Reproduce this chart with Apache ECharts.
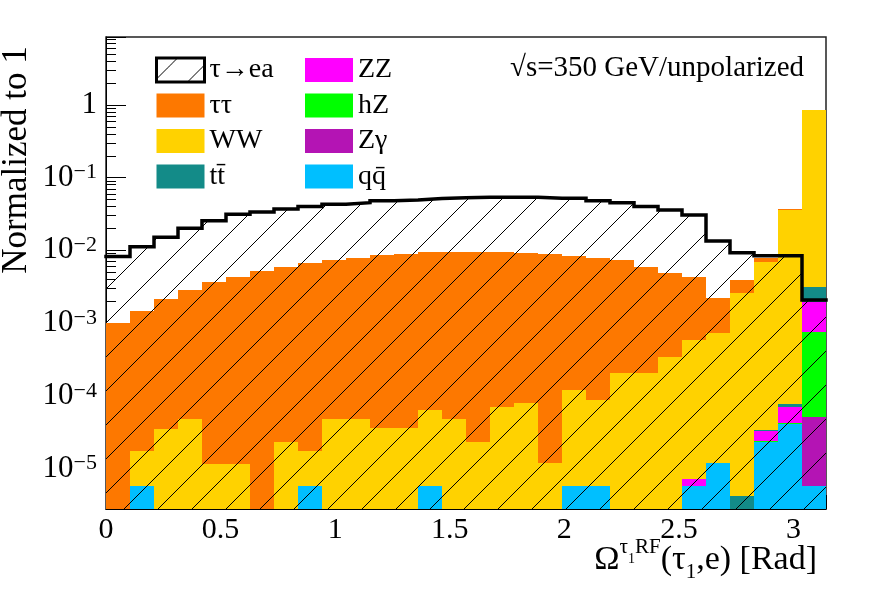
<!DOCTYPE html>
<html>
<head>
<meta charset="utf-8">
<script src="https://cdn.jsdelivr.net/npm/echarts@6/dist/echarts.min.js"></script>
<style>
  html, body {margin: 0; padding: 0; background: #fff;}
  #main {width: 888px; height: 603px;}
</style>
</head>
<body>
<div id="main"></div>
<script>
// histogram: 30 bins over [0, pi]
const NBINS = 30
const XMAX = Math.PI
const YMIN = 2.77e-6
const YMAX = 8.6

// signal tau->ea (normalized)
const sig = [8.2e-3, 0.01125, 0.0151, 0.0201, 0.0256, 0.0313, 0.0337, 0.0371, 0.040, 0.043,
  0.0453, 0.0483, 0.0493, 0.0515, 0.053, 0.0537, 0.0537, 0.0537, 0.052, 0.052,
  0.0483, 0.0453, 0.040, 0.036, 0.0307, 0.01346, 0.0093, 0.0084, 0.0084, 0.00208]

// backgrounds, per process (stacked bottom -> top: qq, Zg, hZ, ZZ, tt, WW, tautau)
const qq = [0, 5.8e-6, 0, 0, 0, 0, 0, 0, 5.8e-6, 0,
  0, 0, 0, 5.8e-6, 0, 0, 0, 0, 0, 5.7e-6,
  5.7e-6, 0, 0, 0, 5.7e-6, 1.18e-5, 0, 2.34e-5, 4.05e-5, 5.7e-6]
const zg = [0, 0, 0, 0, 0, 0, 0, 0, 0, 0,
  0, 0, 0, 0, 0, 0, 0, 0, 0, 0,
  0, 0, 0, 0, 0, 0, 0, 0, 0, 4.6e-5]
const hz = [0, 0, 0, 0, 0, 0, 0, 0, 0, 0,
  0, 0, 0, 0, 0, 0, 0, 0, 0, 0,
  0, 0, 0, 0, 0, 0, 0, 3e-7, 2e-6, 7.1e-4]
const zz = [0, 0, 0, 0, 0, 0, 0, 0, 0, 0,
  0, 0, 0, 0, 0, 0, 0, 0, 0, 0,
  0, 0, 0, 0, 1.4e-6, 0, 0, 9e-6, 2.65e-5, 1.21e-3]
const tt = [0, 0, 0, 0, 0, 0, 0, 0, 0, 0,
  0, 0, 0, 0, 0, 0, 0, 0, 0, 0,
  0, 0, 0, 0, 0, 0, 4.2e-6, 8e-7, 8e-6, 1.2e-3]
const ww = [0, 1.16e-5, 3.53e-5, 4.74e-5, 1.15e-5, 1.16e-5, 0, 2.32e-5, 1.16e-5, 4.74e-5,
  4.74e-5, 3.6e-5, 3.6e-5, 5.8e-5, 4.74e-5, 2.34e-5, 7.1e-5, 8.0e-5, 1.18e-5, 1.14e-4,
  8.2e-5, 2.04e-4, 2.07e-4, 3.45e-4, 5.79e-4, 7.28e-4, 2.616e-3, 6.97e-3, 0.0359, 0.847]
const tautau = [1.01e-3, 1.45e-3, 2.11e-3, 2.80e-3, 3.66e-3, 4.34e-3, 5.2e-3, 5.83e-3, 6.58e-3, 7.25e-3,
  7.85e-3, 8.46e-3, 8.86e-3, 9.44e-3, 9.45e-3, 9.58e-3, 9.43e-3, 9.22e-3, 8.89e-3, 8.28e-3,
  7.71e-3, 7.2e-3, 5.64e-3, 4.56e-3, 3.76e-3, 1.45e-3, 1.28e-3, 0.9e-3, 7e-4, 0]

const FONT = 'Liberation Serif'

const chart = echarts.init(document.getElementById('main'))

const edges = []
for (let i = 0; i <= NBINS; i++) edges.push(i * XMAX / NBINS)

// hatch tile (ROOT style 3004-ish)
function makeHatch() {
  const s = 34, p = 21
  const cv = document.createElement('canvas')
  cv.width = s
  cv.height = s
  const ctx = cv.getContext('2d')
  ctx.strokeStyle = '#000'
  ctx.lineWidth = 1
  for (const c of [p, p + s]) {
    ctx.beginPath()
    ctx.moveTo(c + 2, -2)
    ctx.lineTo(-2, c + 2)
    ctx.stroke()
  }
  return cv
}
const hatch = {image: makeHatch(), repeat: 'repeat'}

const procs = [
  {name: 'qq̄', data: qq, color: '#00bfff'},
  {name: 'Zγ', data: zg, color: '#b414b4'},
  {name: 'hZ', data: hz, color: '#00ff00'},
  {name: 'ZZ', data: zz, color: '#ff00ff'},
  {name: 'tt̄', data: tt, color: '#138b88'},
  {name: 'WW', data: ww, color: '#ffd200'},
  {name: 'ττ', data: tautau, color: '#fd7800'},
]

function renderBin(params, api) {
  const lo = Math.max(api.value(2), YMIN)
  const hi = api.value(3)
  if (!(hi > lo)) return
  const p0 = api.coord([api.value(0), lo])
  const p1 = api.coord([api.value(1), hi])
  const x0 = Math.round(p0[0]), x1 = Math.round(p1[0])
  const y0 = Math.round(p0[1]), y1 = Math.round(p1[1])
  return {
    type: 'rect',
    shape: {x: x0, y: y1, width: x1 - x0, height: y0 - y1},
    style: {fill: api.visual('color')},
  }
}

function renderHatch(params, api) {
  const a = api.coord([api.value(0), api.value(2)])
  const b = api.coord([api.value(1), YMIN])
  return {
    type: 'rect',
    shape: {x: a[0], y: a[1], width: b[0] - a[0], height: b[1] - a[1]},
    style: {fill: hatch},
  }
}

const base = new Array(NBINS).fill(0)
const series = procs.map(p => {
  const rows = p.data.map((v, i) => {
    const lo = base[i]
    base[i] += v
    return [edges[i], edges[i + 1], lo, base[i]]
  })
  return {
    type: 'custom',
    name: p.name,
    renderItem: renderBin,
    itemStyle: {color: p.color},
    encode: {x: [0, 1], y: [2, 3]},
    clip: true,
    silent: true,
    data: rows,
  }
})

series.push({
  type: 'custom',
  name: 'τ→ea',
  renderItem: renderHatch,
  itemStyle: {color: hatch},
  encode: {x: [0, 1], y: [2]},
  clip: true,
  silent: true,
  data: sig.map((v, i) => [edges[i], edges[i + 1], v]),
})

// outline of the signal histogram
const outline = sig.map((v, i) => [edges[i], v])
outline.push([XMAX, sig[NBINS - 1]])
series.push({
  type: 'line',
  name: 'sigOutline',
  step: 'end',
  showSymbol: false,
  symbol: 'none',
  silent: true,
  lineStyle: {color: '#000', width: 3.5, cap: 'square', join: 'miter'},
  data: outline,
})

// minor log ticks (2..9 x 10^n)
const minorLog = []
for (let e = -6; e <= 0; e++) {
  for (let m = 2; m <= 9; m++) {
    const v = m * Math.pow(10, e)
    if (v > YMIN && v < YMAX) minorLog.push(Math.log10(v))
  }
}

const legendText = {fontFamily: FONT, fontSize: 28, color: '#000', lineHeight: 24}
const legendItem = (name, color) => ({name, itemStyle: {color, borderWidth: 0}})

const option = {
  backgroundColor: '#fff',
  animation: false,
  grid: {left: 106, right: 62, top: 37, bottom: 94, show: true, borderColor: '#222', borderWidth: 1.5, backgroundColor: 'transparent'},
  legend: [
    {
      orient: 'vertical', left: 150, top: 51, itemWidth: 48, itemHeight: 24, itemGap: 7.5,
      icon: 'rect', selectedMode: false, textStyle: legendText,
      data: [
        {name: 'τ→ea', itemStyle: {color: hatch, borderColor: '#000', borderWidth: 3}},
        legendItem('ττ', '#fd7800'),
        legendItem('WW', '#ffd200'),
        legendItem('tt̄', '#138b88'),
      ],
    },
    {
      orient: 'vertical', left: 300, top: 51, itemWidth: 48, itemHeight: 24, itemGap: 7.5,
      icon: 'rect', selectedMode: false, textStyle: legendText,
      data: [
        legendItem('ZZ', '#ff00ff'),
        legendItem('hZ', '#00ff00'),
        legendItem('Zγ', '#b414b4'),
        legendItem('qq̄', '#00bfff'),
      ],
    },
  ],
  xAxis: {
    type: 'value', min: 0, max: XMAX, interval: 0.5,
    axisLine: {onZero: false, lineStyle: {color: '#000', width: 1}},
    axisTick: {inside: true, length: 14, lineStyle: {color: '#000'}},
    minorTick: {show: true, splitNumber: 5, length: 7, lineStyle: {color: '#000'}},
    splitLine: {show: false},
    axisLabel: {
      fontFamily: FONT, fontSize: 30, color: '#000', margin: 6,
      formatter: v => (Math.abs(v * 2 - Math.round(v * 2)) < 1e-9 ? String(v) : ''),
    },
  },
  yAxis: [
    {
      type: 'log', logBase: 10, min: YMIN, max: YMAX,
      axisLine: {show: true, onZero: false, lineStyle: {color: '#000', width: 1}},
      axisTick: {inside: true, length: 20, lineStyle: {color: '#000'}},
      splitLine: {show: false},
      axisLabel: {
        margin: 9,
        formatter: v => {
          const e = Math.log10(v)
          const r = Math.round(e)
          if (Math.abs(e - r) > 1e-6) return ''
          if (r === 0) return '{b|1}'
          return '{b|10}{s|' + (r < 0 ? '−' + (-r) : r) + '}'
        },
        rich: {
          b: {fontFamily: FONT, fontSize: 31, color: '#000', lineHeight: 32},
          s: {fontFamily: FONT, fontSize: 22, color: '#000', lineHeight: 20, verticalAlign: 'top'},
        },
      },
    },
    {
      type: 'value', position: 'left',
      min: Math.log10(YMIN), max: Math.log10(YMAX),
      axisLine: {show: false, onZero: false},
      axisLabel: {show: false},
      splitLine: {show: false},
      axisTick: {show: true, inside: true, length: 10, customValues: minorLog, lineStyle: {color: '#000'}},
    },
  ],
  graphic: [
    {
      type: 'text', x: 17, y: 160, rotation: Math.PI / 2,
      style: {text: 'Normalized to 1', font: '35px "Liberation Serif"', fill: '#000', align: 'center', verticalAlign: 'middle'},
    },
    {
      type: 'text', x: 804, y: 68,
      style: {text: '√s=350 GeV/unpolarized', font: '29px "Liberation Serif"', fill: '#000', align: 'right', verticalAlign: 'middle'},
    },
    {
      type: 'text', x: 817, y: 537,
      style: {
        text: '{m|Ω}{t|τ}{t1|1}{t|RF}{m|(τ}{s|1}{m|,e) [Rad]}',
        align: 'right', verticalAlign: 'top',
        rich: {
          m: {fontFamily: FONT, fontSize: 34, lineHeight: 46, verticalAlign: 'middle', fill: '#000'},
          t: {fontFamily: FONT, fontSize: 21, lineHeight: 21, verticalAlign: 'top', fill: '#000'},
          t1: {fontFamily: FONT, fontSize: 14, lineHeight: 14, padding: [15, 0, 0, 0], verticalAlign: 'top', fill: '#000'},
          s: {fontFamily: FONT, fontSize: 21, lineHeight: 15, verticalAlign: 'bottom', fill: '#000'},
        },
      },
    },
  ],
  series,
}

chart.setOption(option)
</script>
</body>
</html>
